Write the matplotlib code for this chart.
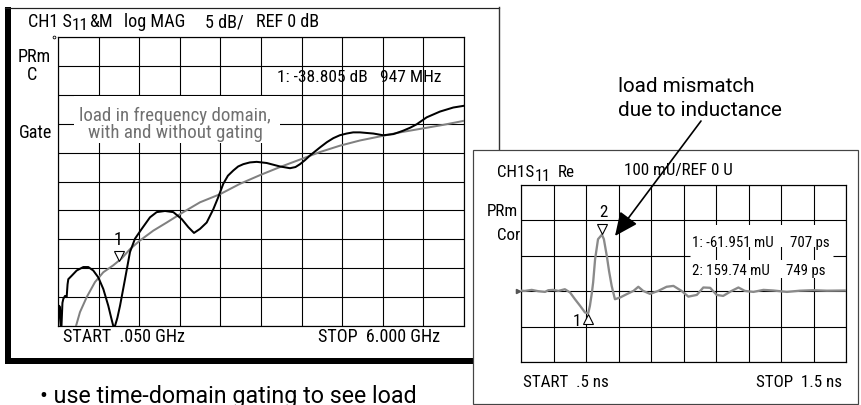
import matplotlib
matplotlib.use("Agg")
import matplotlib.pyplot as plt
import numpy as np
from matplotlib import font_manager
from matplotlib.patches import Rectangle, FancyArrowPatch
from matplotlib.lines import Line2D
from matplotlib.transforms import offset_copy

# ---------------- data ----------------
# Left panel: S11 log magnitude (dB) vs frequency (GHz)
freq_ungated = [0.050, 0.065, 0.079, 0.090, 0.101, 0.115, 0.128, 0.153, 0.177, 0.190, 0.201, 0.251,
                0.324, 0.421, 0.494, 0.567, 0.641, 0.714, 0.787, 0.830, 0.860, 0.885, 0.920, 0.959,
                1.032, 1.105, 1.178, 1.277, 1.398, 1.496, 1.618, 1.740, 1.863, 1.960, 2.043,
                2.131, 2.229, 2.326, 2.399, 2.472, 2.540, 2.619, 2.690, 2.766, 2.862, 2.962,
                3.109, 3.303, 3.450, 3.530, 3.597, 3.670, 3.743, 3.890, 3.990, 4.085, 4.180,
                4.281, 4.376, 4.476, 4.571, 4.671, 4.817, 4.964, 5.040, 5.110, 5.210, 5.307,
                5.453, 5.648, 5.843, 6.000]
s11_ungated_db = [-50.0, -46.5, -46.7, -50.0, -50.0, -46.0, -45.3, -44.8, -45.0, -42.8, -41.9, -41.3,
                  -40.4, -39.8, -39.8, -40.4, -41.6, -43.6, -46.5, -48.6, -50.0, -50.0, -48.6, -46.5,
                  -41.9, -37.2, -34.9, -33.2, -31.2, -30.3, -30.1, -30.3, -31.5, -32.9, -33.9,
                  -33.2, -32.1, -29.8, -27.7, -25.4, -24.0, -23.1, -22.4, -22.0, -21.7, -21.6,
                  -21.8, -22.4, -22.7, -22.5, -22.0, -21.3, -20.5, -19.1, -18.2, -17.5, -17.0,
                  -16.7, -16.5, -16.5, -16.6, -16.7, -17.0, -16.8, -16.5, -16.2, -15.7, -15.1,
                  -13.9, -12.9, -12.2, -11.9]
freq_gated = [0.314, 0.372, 0.471, 0.592, 0.714, 0.860, 0.984, 1.105, 1.252, 1.447, 1.643,
              1.886, 2.131, 2.424, 2.717, 3.010, 3.303, 3.597, 3.890, 4.183, 4.476, 4.769,
              5.062, 5.404, 5.697, 6.000]
s11_gated_db = [-50.0, -47.6, -45.0, -42.4, -40.7, -39.5, -38.3, -36.7, -35.2, -33.5, -32.1,
                -30.3, -28.6, -27.2, -25.4, -23.9, -22.5, -21.2, -19.9, -18.8, -17.9, -17.2,
                -16.5, -15.8, -15.2, -14.5]
freq_marker_ghz = 0.947
freq_marker_db = -38.805

# Right panel: S11 real part (mU) vs time (ns)
time_ns = [0.500, 0.512, 0.533, 0.553, 0.574, 0.584, 0.599, 0.615, 0.635, 0.651, 0.666,
           0.682, 0.697, 0.707, 0.712, 0.718, 0.722, 0.728, 0.737, 0.749, 0.755, 0.764,
           0.771, 0.779, 0.789, 0.805, 0.825, 0.846, 0.861, 0.876, 0.897, 0.922, 0.948,
           0.969, 0.994, 1.015, 1.041, 1.061, 1.082, 1.102, 1.122, 1.148, 1.169, 1.189,
           1.215, 1.246, 1.276, 1.318, 1.358, 1.399, 1.441, 1.500]
s11_real_mU = [1.4, 0.8, 3.7, 0.0, -2.0, 2.8, 3.7, 0.8, 5.6, -3.7, -22.6,
               -41.5, -60.2, -62.0, -41.5, -5.0, 25.0, 90.4, 146.9, 159.7, 146.9, 99.7,
               56.5, 15.0, -22.6, -17.8, -8.5, 0.8, 12.5, 0.8, -7.6, 0.8, 12.5,
               15.0, 0.8, -15.3, -10.5, 10.5, 9.6, -10.5, -13.3, 0.8, 10.5, 0.8,
               -2.0, 3.7, 2.0, -2.0, 1.4, 2.8, 1.4, 2.0]
time_markers_ns = [0.707, 0.749]
time_markers_mU = [-61.951, 159.74]

# ---------------- fonts ----------------
def avail(name):
    try:
        font_manager.findfont(font_manager.FontProperties(family=name), fallback_to_default=False)
        return True
    except Exception:
        return False

NARROW = next((f for f in ["Liberation Sans Narrow", "Roboto Condensed", "DejaVu Sans Condensed",
                           "Liberation Sans"] if avail(f)), "DejaVu Sans")
REGULAR = next((f for f in ["Roboto", "Liberation Sans", "Noto Sans"] if avail(f)), "DejaVu Sans")

W, H = 861, 406
fig = plt.figure(figsize=(W / 100, H / 100), dpi=100)
fig.patch.set_facecolor("white")
renderer = fig.canvas.get_renderer()
TF = fig.transFigure
PX = 0.72  # points per pixel


def rect(x0, y0, x1, y1, **kw):
    r = Rectangle((x0 / W, 1 - y1 / H), (x1 - x0) / W, (y1 - y0) / H, transform=TF, **kw)
    fig.add_artist(r)
    return r


def line(x0, y0, x1, y1, **kw):
    l = Line2D([x0 / W, x1 / W], [1 - y0 / H, 1 - y1 / H], transform=TF, **kw)
    fig.add_artist(l)
    return l


def fit_size(s, width, family):
    t = fig.text(0, 0, s, fontsize=12, family=family)
    w = t.get_window_extent(renderer).width
    t.remove()
    return 12 * width / w


def label(s, x0, base, size, family=NARROW, color="black", ha="left", zorder=5):
    return fig.text(x0 / W, 1 - base / H, s, fontsize=size, family=family, color=color,
                    ha=ha, va="baseline", zorder=zorder)


def chain(parts, x0, base, size):
    """parts: list of (text, dy, scale) placed one after another."""
    x = x0
    for s, dy, sc in parts:
        t = label(s, x, base + dy, size * sc)
        x = t.get_window_extent(renderer).x1 + 0.3
    return x

SL = fit_size("STOP  6.000 GHz", 115, NARROW) * 1.06     # left screen annotation size
SR = fit_size("100 mU/REF 0 U", 102, NARROW) * 1.06      # right screen annotation size
SLd = fit_size("1: -38.805 dB", 90, NARROW)             # left marker readout
SRd = fit_size("1: -61.951 mU", 81, NARROW)             # right marker readout
SG = fit_size("load in frequency domain,", 186, NARROW) * 1.03
SB = fit_size("\u2022 use time-domain gating to see load", 375, REGULAR)
SM = fit_size("due to inductance", 163, REGULAR)

# ---------------- frames ----------------
rect(5, 8, 10.5, 365, facecolor="black", edgecolor="none", zorder=0.1)
rect(5, 358.5, 499, 365, facecolor="black", edgecolor="none", zorder=0.1)
line(5, 8.5, 499, 8.5, color="#222222", lw=1.2 * PX, zorder=0.1)
line(499, 8, 499, 365, color="#333333", lw=1.4 * PX, zorder=0.1)
rect(473, 150.5, 858, 404.5, facecolor="white", edgecolor="#444444", lw=1.2 * PX, zorder=0.2)

# ---------------- left axes ----------------
axL = fig.add_axes([58 / W, 1 - 327 / H, 406 / W, 289 / H])
axL.set_zorder(0.5)
axL.set_xlim(0.05, 6.0)
axL.set_ylim(-50, 0)
axL.set_xticks([]); axL.set_yticks([])
for sp in axL.spines.values():
    sp.set_linewidth(1.2 * PX); sp.set_color("black")
gx = np.linspace(0.05, 6.0, 11)
gy = np.arange(-50, 1, 5)
axL.vlines(gx, -50, 0, colors="black", lw=1.1 * PX, zorder=1)
axL.hlines(gy, 0.05, 6.0, colors="black", lw=1.1 * PX, zorder=1)
axL.plot(freq_gated, s11_gated_db, color="#808080", lw=2.0 * PX, zorder=3, solid_joinstyle="round")
axL.plot(freq_ungated, s11_ungated_db, color="black", lw=2.0 * PX, zorder=4, solid_joinstyle="round")
trL = offset_copy(axL.transData, fig=fig, x=0, y=5, units="dots")
axL.plot([freq_marker_ghz], [freq_marker_db], marker="v", ms=6.5, mfc="white", mec="black",
         mew=0.8, transform=trL, zorder=5, clip_on=False)
axL.plot([0.05], [0], marker="o", ms=2, mfc="white", mec="black", mew=0.6,
         transform=offset_copy(axL.transData, fig=fig, x=-4, y=0, units="dots"), clip_on=False)

# ---------------- right axes ----------------
axR = fig.add_axes([521 / W, 1 - 363 / H, 325 / W, 177 / H])
axR.set_zorder(0.5)
axR.set_xlim(0.5, 1.5)
axR.set_ylim(-200, 300)
axR.set_xticks([]); axR.set_yticks([])
axR.patch.set_alpha(0)
for sp in axR.spines.values():
    sp.set_linewidth(1.2 * PX); sp.set_color("black")
rx = np.linspace(0.5, 1.5, 11)
ry = np.arange(-200, 301, 100)
axR.vlines(rx, -200, 300, colors="black", lw=1.1 * PX, zorder=1)
for yv in ry:
    if yv == 100:
        axR.hlines(yv, 0.5, 0.5 + (690 - 521) / 325, colors="black", lw=1.1 * PX, zorder=1)
        axR.hlines(yv, 0.5 + (833 - 521) / 325, 1.5, colors="black", lw=1.1 * PX, zorder=1)
    else:
        axR.hlines(yv, 0.5, 1.5, colors="black", lw=1.1 * PX, zorder=1)
axR.plot(time_ns, s11_real_mU, color="#8a8a8a", lw=2.3 * PX, zorder=3, solid_joinstyle="round")
tr_up = offset_copy(axR.transData, fig=fig, x=0, y=6, units="dots")
tr_dn = offset_copy(axR.transData, fig=fig, x=0, y=-6, units="dots")
axR.plot([time_markers_ns[1]], [time_markers_mU[1]], marker="v", ms=7, mfc="white", mec="black",
         mew=0.8, transform=tr_up, zorder=5, clip_on=False)
axR.plot([time_markers_ns[0]], [time_markers_mU[0]], marker="^", ms=7, mfc="white", mec="black",
         mew=0.8, transform=tr_dn, zorder=5, clip_on=False)
tr_ref = offset_copy(axR.transData, fig=fig, x=-3, y=0, units="dots")
axR.plot([0.5], [0], marker=">", ms=3, color="#555555", transform=tr_ref, clip_on=False, zorder=5)

# ---------------- white boxes behind readouts ----------------
rect(74, 97, 280, 144, facecolor="white", edgecolor="none", zorder=1)
rect(689, 226, 834, 248, facecolor="white", edgecolor="none", zorder=1)
rect(689, 261, 834, 279, facecolor="white", edgecolor="none", zorder=1)

# ---------------- texts: left panel ----------------
chain([("CH1 S", 0, 1.0), ("11", 2.5, 0.95), ("&M", 0, 1.0)], 28, 27.3, SL)
label("log MAG", 124, 27.3, SL)
label("5 dB/", 205, 27.3, SL)
label("REF 0 dB", 256, 27.3, SL)
label("PRm", 18, 61.7, SL)
label("C", 27, 80, SL)
label("Gate", 19, 138.3, SL)
label("1: -38.805 dB", 277, 81.7, SLd)
label("947 MHz", 441, 81.7, SLd, ha="right")
label("load in frequency domain,", 175, 120.7, SG, color="#707070", ha="center")
label("with and without gating", 175, 137.7, SG, color="#707070", ha="center")
label("START  .050 GHz", 63, 341.7, SL)
label("STOP  6.000 GHz", 318, 341.7, SL)
label("1", 118.5, 245, SL, ha="center")

label("\u2022 use time-domain gating to see load", 40, 402.7, SB, family=REGULAR)

# ---------------- texts: right panel ----------------
label("load mismatch", 618, 92.3, SM, family=REGULAR)
label("due to inductance", 618, 116, SM, family=REGULAR)
chain([("CH1S", 0, 1.0), ("11", 4.5, 0.95)], 497, 176.7, SR)
label("Re", 558, 176.7, SR)
label("100 mU/REF 0 U", 624, 175, SR)
label("PRm", 487, 216, SR)
label("Cor", 497, 240, SR)
label("1: -61.951 mU", 692, 246.7, SRd)
label("707 ps", 830, 246.7, SRd, ha="right")
label("2: 159.74 mU", 692, 275, SRd)
label("749 ps", 826, 275, SRd, ha="right")
label("START  .5 ns", 523, 386.7, SR)
label("STOP  1.5 ns", 756, 386.7, SR)
label("2", 603, 216.7, SR, ha="center")
label("1", 577, 325.7, SR, ha="center")

# ---------------- arrow ----------------
arr = FancyArrowPatch((701 / W, 1 - 122 / H), (615 / W, 1 - 237 / H), transform=TF,
                      arrowstyle="-|>,head_length=1.1,head_width=0.5", mutation_scale=13,
                      lw=1.2, color="black", shrinkA=0, shrinkB=0, zorder=6)
fig.add_artist(arr)

fig.savefig("out.png", dpi=100, facecolor="white")
